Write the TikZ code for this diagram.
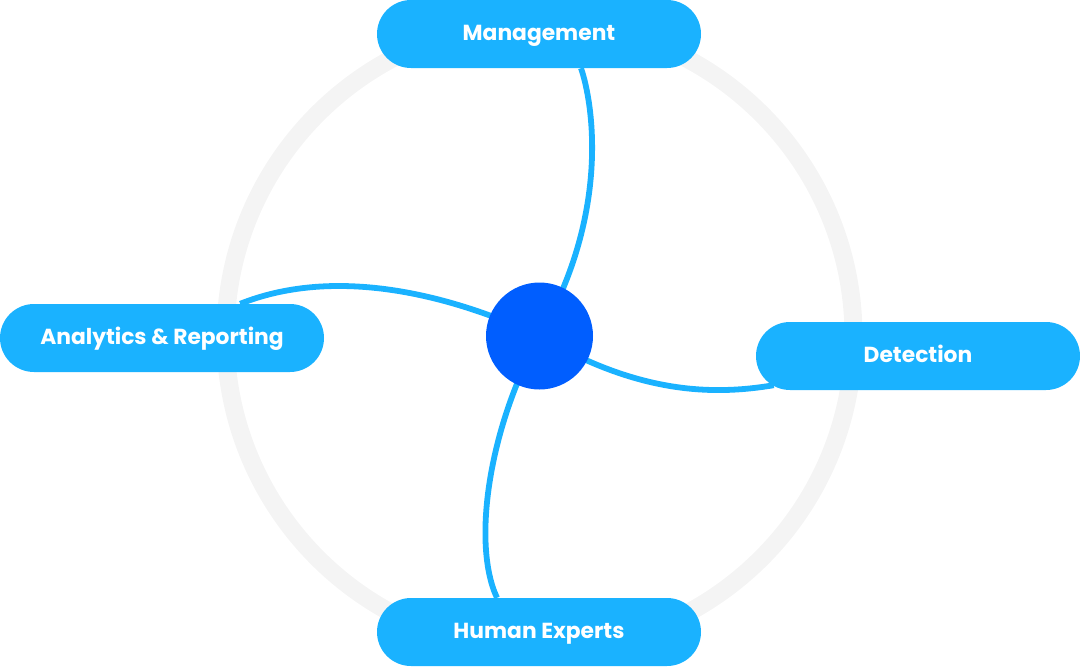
\documentclass[tikz,border=0pt]{standalone}
\usepackage{fontspec}
\setmainfont{Poppins}
\usetikzlibrary{backgrounds,calc}
\definecolor{cSkyF}{HTML}{1AB2FF}
\definecolor{cHubF}{HTML}{005EFF}
\definecolor{cRingD}{HTML}{F4F4F4}
\tikzset{
  pill/.style = {rounded corners=34pt, fill=cSkyF, text=white, inner sep=0pt,
                 minimum width=324pt, minimum height=68pt,
                 text height=15pt, text depth=3pt,
                 font=\bfseries\fontsize{21.8}{26}\selectfont},
  hub/.style  = {circle, fill=cHubF, minimum size=107pt, inner sep=0pt},
  link/.style = {cSkyF, line width=5.8pt},
  ring/.style = {cRingD, line width=18pt},
}
\begin{document}
\begin{tikzpicture}[x=1pt,y=-1pt]
  \useasboundingbox (0,0) rectangle (1080,667);
  % hub and the four pills
  \node[hub] (hub) at (539.5,336) {};
  \node[pill] (mgmt) at (539,34) {Management};
  \node[pill] (ana) at (162,338) {Analytics \& Reporting};
  \node[pill] (det) at (918,356) {Detection};
  \node[pill] (hum) at (539,632) {Human Experts};
  % where the links meet the pills
  \coordinate (mgmt-in) at ($(mgmt.south)+(42,0)$);
  \coordinate (ana-in) at ($(ana.north east)+(-84,0)$);
  \coordinate (det-in) at ($(det.south west)+(18,-5)$);
  \coordinate (hum-in) at ($(hum.north)+(-42,0)$);
  \begin{scope}[on background layer]
    % outer ring
    \draw[ring] (hub.center) circle (314);
    % curved links
    \draw[link] (hub.center) .. controls (612,210) and (592,100) .. (mgmt-in);
    \draw[link] (hub.center) .. controls (440,290) and (330,268) .. (ana-in);
    \draw[link] (hub.center) .. controls (640,395) and (715,395) .. (det-in);
    \draw[link] (hub.center) .. controls (488,430) and (472,545) .. (hum-in);
  \end{scope}
\end{tikzpicture}
\end{document}
